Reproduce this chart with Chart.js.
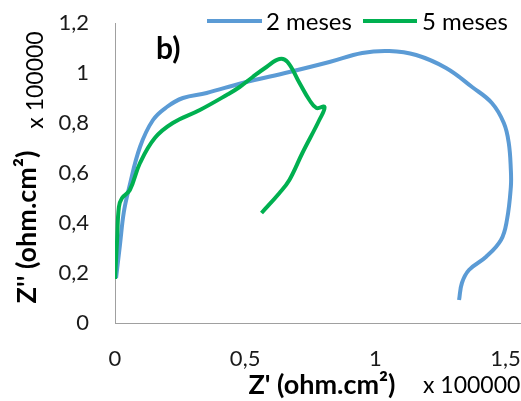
<!DOCTYPE html>
<html>
<head>
<meta charset="utf-8">
<script src="https://cdn.jsdelivr.net/npm/chart.js@4/dist/chart.umd.min.js"></script>
<style>
  html, body { margin: 0; padding: 0; background: #fff; }
</style>
</head>
<body>
<canvas id="grafico" width="521" height="401"></canvas>
<script>
// Z' e Z'' (x 100000 ohm.cm²)
const zReal2 = [0.004, 0.019, 0.034, 0.054, 0.096, 0.146, 0.199, 0.261, 0.352, 0.49, 0.67, 0.824, 0.95, 1.054, 1.157, 1.272, 1.372, 1.448, 1.494, 1.513, 1.521, 1.521, 1.506, 1.483, 1.425, 1.36, 1.333, 1.322];
const zImag2 = [0.18, 0.312, 0.444, 0.54, 0.704, 0.812, 0.864, 0.9, 0.92, 0.96, 1.004, 1.044, 1.08, 1.088, 1.072, 1.02, 0.944, 0.88, 0.8, 0.72, 0.612, 0.544, 0.412, 0.332, 0.264, 0.212, 0.16, 0.092];
const zReal5 = [0.0, 0.008, 0.015, 0.027, 0.057, 0.096, 0.153, 0.222, 0.326, 0.429, 0.479, 0.529, 0.582, 0.632, 0.663, 0.709, 0.747, 0.774, 0.805, 0.785, 0.72, 0.67, 0.632, 0.563];
const zImag5 = [0.176, 0.332, 0.464, 0.5, 0.532, 0.64, 0.74, 0.8, 0.852, 0.912, 0.944, 0.984, 1.024, 1.056, 1.044, 0.96, 0.892, 0.86, 0.864, 0.812, 0.68, 0.572, 0.52, 0.44];
const series = ['2 meses', '5 meses'];
const cores = ['#5b9bd5', '#00b050'];

const fonte = 'Lato, "Open Sans", sans-serif';
const virgula = v => String(Number(v.toFixed(2))).replace('.', ',');

const pontos = (xs, ys) => xs.map((x, i) => ({ x: x, y: ys[i] }));

// legenda, titulos e unidades desenhados à mão
const textos = {
  id: 'textos',
  afterDraw(chart) {
    const c = chart.ctx;
    c.save();
    c.textBaseline = 'middle';
    c.textAlign = 'left';

    const leg = [[207, 262, 266], [363, 417, 422]];
    chart.data.datasets.forEach((ds, i) => {
      const [x0, x1, xt] = leg[i];
      c.strokeStyle = ds.borderColor;
      c.lineWidth = 4;
      c.beginPath();
      c.moveTo(x0, 21);
      c.lineTo(x1, 21);
      c.stroke();
      c.fillStyle = '#000';
      c.font = '24px ' + fonte;
      c.fillText(ds.label, xt, 22);
    });

    c.fillStyle = '#000';
    c.font = 'bold 30px ' + fonte;
    c.fillText('b)', 156, 49);

    c.font = 'bold 27px ' + fonte;
    c.textAlign = 'center';
    c.fillText("Z' (ohm.cm²)", 322, 385);
    c.font = '23px ' + fonte;
    c.textAlign = 'left';
    c.fillText('x 100000', 423, 386);

    c.save();
    c.translate(27, 227);
    c.rotate(-Math.PI / 2);
    c.textAlign = 'center';
    c.font = 'bold 27px ' + fonte;
    c.fillText("Z'' (ohm.cm²)", 0, 0);
    c.restore();

    c.save();
    c.translate(36, 80);
    c.rotate(-Math.PI / 2);
    c.textAlign = 'center';
    c.font = '23px ' + fonte;
    c.fillText('x 100000', 0, 0);
    c.restore();

    c.restore();
  }
};

const ctx = document.getElementById('grafico').getContext('2d');
const chart = new Chart(ctx, {
  type: 'scatter',
  data: {
    datasets: [
      {
        label: series[0],
        data: pontos(zReal2, zImag2),
        borderColor: cores[0],
        backgroundColor: cores[0],
        borderWidth: 4,
        showLine: true,
        tension: 0.4,
        pointRadius: 0,
        order: 1
      },
      {
        label: series[1],
        data: pontos(zReal5, zImag5),
        borderColor: cores[1],
        backgroundColor: cores[1],
        borderWidth: 4,
        showLine: true,
        tension: 0.4,
        pointRadius: 0,
        order: 0
      }
    ]
  },
  options: {
    responsive: false,
    animation: false,
    layout: { padding: { top: 23, right: 0, left: 0, bottom: 0 } },
    plugins: {
      legend: { display: false },
      tooltip: { enabled: false }
    },
    scales: {
      x: {
        type: 'linear',
        min: 0,
        max: 1.56,
        grid: { display: false, drawTicks: false },
        border: { display: true, color: '#a0a0a0', width: 1 },
        ticks: {
          stepSize: 0.5,
          includeBounds: false,
          padding: 23,
          color: '#1a1a1a',
          font: { family: fonte, size: 22 },
          callback: virgula
        },
        afterFit: s => { s.height = 78; s.paddingLeft = 0; s.paddingRight = 0; }
      },
      y: {
        type: 'linear',
        min: 0,
        max: 1.2,
        grid: { display: false, drawTicks: false },
        border: { display: true, color: '#a0a0a0', width: 1 },
        ticks: {
          stepSize: 0.2,
          padding: 26,
          color: '#1a1a1a',
          font: { family: fonte, size: 22 },
          callback: virgula
        },
        afterFit: s => { s.width = 115; s.paddingTop = 0; s.paddingBottom = 0; }
      }
    }
  },
  plugins: [textos]
});
</script>
</body>
</html>
